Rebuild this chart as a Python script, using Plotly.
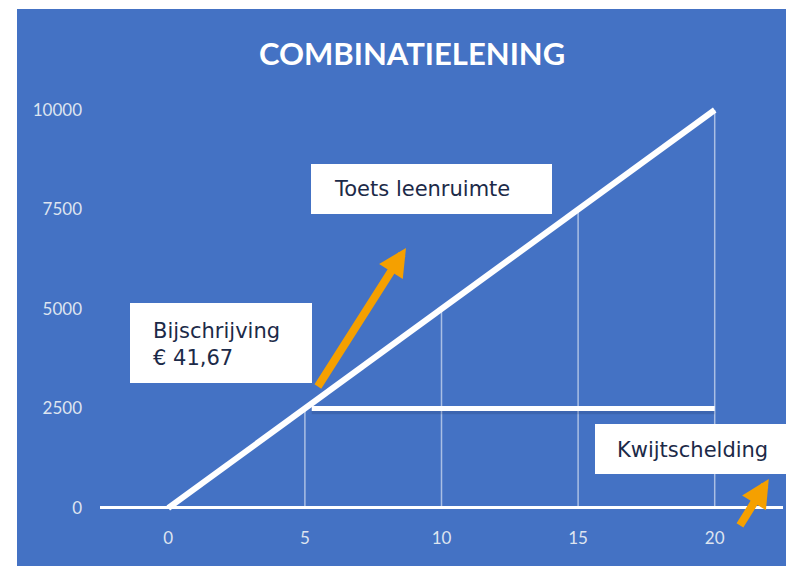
import plotly.graph_objects as go

# chart values
years = [0, 5, 10, 15, 20]
balance = [0, 2500, 5000, 7500, 10000]
x_ticks = [0, 5, 10, 15, 20]
y_ticks = [0, 2500, 5000, 7500, 10000]
y_tick_text = ["0", "2500", "5000", "7500", "10000"]
cap_level = 2500
cap_from = 5.25
cap_to = 20

title = "COMBINATIELENING"
labels = ["Toets leenruimte", "Bijschrijving<br>€ 41,67", "Kwijtschelding"]

BLUE = "#4472C4"
ORANGE = "#F5A000"
NAVY = "#1C2A48"
TICK = "#DDE4F0"

# the page puts the figure 8px in from the top-left corner
OFF = 8
W, H = 794 - OFF, 566 - OFF
L, R, T, B = 100 - OFF, 11, 90 - OFF, 46


def px_x(p):
    return (p - OFF - L) / (W - L - R)


def px_y(p):
    return (H - B - (p - OFF)) / (H - T - B)


fig = go.Figure()

# drop lines from the axis up to the balance line
drop_x, drop_y = [], []
for x, y in zip(years[1:], balance[1:]):
    drop_x += [x, x, None]
    drop_y += [0, y, None]
fig.add_trace(go.Scatter(x=drop_x, y=drop_y, mode="lines",
                         line=dict(color="rgba(255,255,255,0.55)", width=1.5),
                         hoverinfo="skip"))

# level line (with a soft shadow)
fig.add_trace(go.Scatter(x=[cap_from, cap_to], y=[cap_level - 70, cap_level - 70],
                         mode="lines", line=dict(color="rgba(30,45,90,0.18)", width=6),
                         hoverinfo="skip"))
fig.add_trace(go.Scatter(x=[cap_from, cap_to], y=[cap_level, cap_level],
                         mode="lines", line=dict(color="white", width=5)))

# balance line
fig.add_trace(go.Scatter(x=years, y=balance, mode="lines",
                         line=dict(color="white", width=6)))

fig.update_layout(
    width=W, height=H,
    margin=dict(l=L, r=R, t=T, b=B),
    paper_bgcolor="white",
    plot_bgcolor="rgba(0,0,0,0)",
    showlegend=False,
    font=dict(family="Lato", color=TICK, size=17),
)
fig.update_xaxes(range=[-2.5, 22.5], tickvals=x_ticks, showgrid=False,
                 zeroline=False, showline=False, ticklabelstandoff=6,
                 tickfont=dict(color=TICK, size=17))
fig.update_yaxes(range=[-302, 10502], tickvals=y_ticks, ticktext=y_tick_text,
                 showgrid=False, zeroline=True, zerolinecolor="white",
                 zerolinewidth=2.5, showline=False, ticklabelstandoff=17,
                 tickfont=dict(color=TICK, size=17))

# blue panel
fig.add_shape(type="rect", xref="paper", yref="paper", layer="below",
              x0=px_x(17), x1=px_x(800), y0=px_y(570), y1=px_y(9),
              fillcolor=BLUE, line_width=0)

# white label boxes
boxes = [(311, 552, 164, 214), (130, 312, 303, 383), (595, 800, 424, 474)]
for x0, x1, y0, y1 in boxes:
    fig.add_shape(type="rect", xref="paper", yref="paper",
                  x0=px_x(x0), x1=px_x(x1), y0=px_y(y1), y1=px_y(y0),
                  fillcolor="white", line_width=0)

text_pos = [(332, 189), (151, 344), (615, 450)]
for txt, (tx, ty) in zip(labels, text_pos):
    fig.add_annotation(xref="paper", yref="paper", x=px_x(tx), y=px_y(ty),
                       text=txt, showarrow=False, xanchor="left", yanchor="middle",
                       align="left",
                       font=dict(family="DejaVu Sans", size=21, color=NAVY))

# title
fig.add_annotation(xref="paper", yref="paper", x=px_x(412), y=px_y(53),
                   text="<b>" + title + "</b>", showarrow=False,
                   xanchor="center", yanchor="middle",
                   font=dict(family="Lato", size=31, color="white"))

# orange arrows
arrows = [((5.44, 3015), (8.70, 6533)), ((20.89, -477), (21.98, 729))]
for (ax, ay), (x, y) in arrows:
    fig.add_annotation(x=x, y=y, ax=ax, ay=ay, xref="x", yref="y",
                       axref="x", ayref="y", text="", showarrow=True,
                       arrowhead=2, arrowsize=0.7, arrowwidth=8,
                       arrowcolor=ORANGE, standoff=0)

fig.write_html("out.html")
